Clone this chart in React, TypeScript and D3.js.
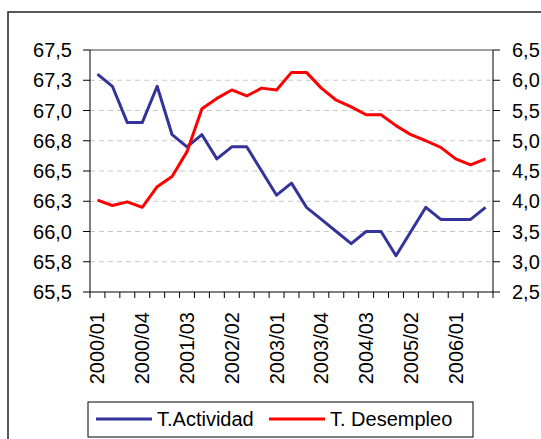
import React from "react";
import * as d3 from "d3";

const categories = [
  "2000/01","2000/02","2000/03","2000/04",
  "2001/01","2001/02","2001/03","2001/04",
  "2002/01","2002/02","2002/03","2002/04",
  "2003/01","2003/02","2003/03","2003/04",
  "2004/01","2004/02","2004/03","2004/04",
  "2005/01","2005/02","2005/03","2005/04",
  "2006/01","2006/02","2006/03",
];

const actividad = [
  67.3, 67.2, 66.9, 66.9, 67.2, 66.8, 66.7, 66.8, 66.6, 66.7, 66.7, 66.5, 66.3,
  66.4, 66.2, 66.1, 66.0, 65.9, 66.0, 66.0, 65.8, 66.0, 66.2, 66.1, 66.1, 66.1, 66.2,
];

const desempleo = [
  4.02, 3.93, 3.99, 3.9, 4.24, 4.41, 4.82, 5.53, 5.7, 5.84, 5.74, 5.87, 5.84,
  6.13, 6.13, 5.87, 5.67, 5.56, 5.43, 5.43, 5.25, 5.1, 5.0, 4.89, 4.7, 4.6, 4.7,
];

const leftTicks = [65.5, 65.75, 66.0, 66.25, 66.5, 66.75, 67.0, 67.25, 67.5];
const rightTicks = [2.5, 3.0, 3.5, 4.0, 4.5, 5.0, 5.5, 6.0, 6.5];
const seriesNames = ["T.Actividad", "T. Desempleo"];
const seriesColors = ["#333399", "#ff0000"];

const W = 541;
const H = 439;
const plot = { left: 90, right: 493, top: 50, bottom: 292 };
const FONT = "'Liberation Sans', Arial, sans-serif";

export default function App() {
  const x = d3
    .scaleBand<string>()
    .domain(categories)
    .range([plot.left, plot.right])
    .paddingInner(0)
    .paddingOuter(0);
  const yL = d3.scaleLinear().domain([65.5, 67.5]).range([plot.bottom, plot.top]);
  const yR = d3.scaleLinear().domain([2.5, 6.5]).range([plot.bottom, plot.top]);
  const cx = (c: string) => (x(c) as number) + x.bandwidth() / 2;

  const lineL = d3
    .line<number>()
    .x((_, i) => cx(categories[i]))
    .y((d) => yL(d));
  const lineR = d3
    .line<number>()
    .x((_, i) => cx(categories[i]))
    .y((d) => yR(d));

  const fmt = (v: number) => v.toFixed(1).replace(".", ",");
  const boundaries = categories.map((c) => x(c) as number).concat([plot.right]);

  const legendY = 419;

  return (
    <div style={{ position: "fixed", left: 0, top: 0 }}>
      <svg width={W} height={H} style={{ display: "block", background: "#fff" }} fontFamily={FONT}>
        <rect x={0} y={0} width={W} height={H} fill="#fff" />
        {/* outer frame */}
        <rect x={8} y={12} width={W + 20} height={H + 20} fill="none" stroke="#222" strokeWidth={1.5} />

        {/* grid */}
        {leftTicks.slice(1, -1).map((t) => (
          <line
            key={"g" + t}
            x1={plot.left}
            x2={plot.right}
            y1={yL(t)}
            y2={yL(t)}
            stroke="#c8c8c8"
            strokeWidth={1}
            strokeDasharray="5,4"
          />
        ))}
        {/* top border */}
        <line x1={plot.left} x2={plot.right} y1={plot.top} y2={plot.top} stroke="#808080" strokeWidth={1.5} />

        {/* left axis */}
        <line x1={plot.left} x2={plot.left} y1={plot.top} y2={plot.bottom} stroke="#000" strokeWidth={1} />
        {leftTicks.map((t) => (
          <g key={"l" + t}>
            <line x1={plot.left - 7} x2={plot.left} y1={yL(t)} y2={yL(t)} stroke="#000" />
            <text
              x={72}
              y={yL(t)}
              textAnchor="end"
              dominantBaseline="central"
              fontSize={20}
              fill="#000"
            >
              {fmt(t)}
            </text>
          </g>
        ))}

        {/* right axis */}
        <line x1={plot.right} x2={plot.right} y1={plot.top} y2={plot.bottom} stroke="#000" strokeWidth={1} />
        {rightTicks.map((t) => (
          <g key={"r" + t}>
            <line x1={plot.right} x2={plot.right + 7} y1={yR(t)} y2={yR(t)} stroke="#000" />
            <text x={512} y={yR(t)} textAnchor="start" dominantBaseline="central" fontSize={20} fill="#000">
              {fmt(t)}
            </text>
          </g>
        ))}

        {/* bottom axis */}
        <line x1={plot.left} x2={plot.right} y1={plot.bottom} y2={plot.bottom} stroke="#000" strokeWidth={1} />
        {boundaries.map((b, i) => (
          <line key={"t" + i} x1={b} x2={b} y1={plot.bottom} y2={plot.bottom + 6} stroke="#000" />
        ))}
        {categories.map((c, i) =>
          i % 3 === 0 ? (
            <text
              key={"x" + c}
              transform={`translate(${cx(c)},312) rotate(-90)`}
              textAnchor="end"
              dominantBaseline="central"
              fontSize={20}
              fill="#000"
            >
              {c}
            </text>
          ) : null
        )}

        {/* lines */}
        <path d={lineL(actividad) || ""} fill="none" stroke={seriesColors[0]} strokeWidth={3} strokeLinejoin="round" />
        <path d={lineR(desempleo) || ""} fill="none" stroke={seriesColors[1]} strokeWidth={3} strokeLinejoin="round" />

        {/* legend */}
        <rect x={88} y={402} width={385} height={35} fill="#fff" stroke="#000" strokeWidth={1} />
        <line x1={96} x2={152} y1={legendY} y2={legendY} stroke={seriesColors[0]} strokeWidth={3} />
        <text x={157} y={legendY} dominantBaseline="central" fontSize={20} fill="#000">
          {seriesNames[0]}
        </text>
        <line x1={269} x2={325} y1={legendY} y2={legendY} stroke={seriesColors[1]} strokeWidth={3} />
        <text x={330} y={legendY} dominantBaseline="central" fontSize={20} fill="#000">
          {seriesNames[1]}
        </text>
      </svg>
    </div>
  );
}
